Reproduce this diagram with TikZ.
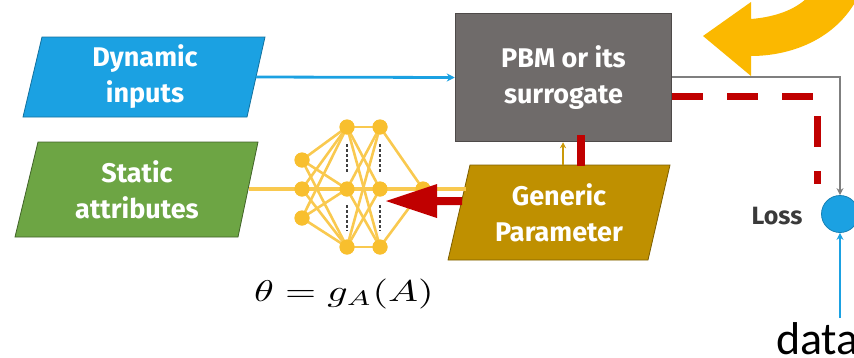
\documentclass[tikz,border=0pt]{standalone}
\usepackage{fontspec}
\usepackage{graphicx}
\usetikzlibrary{arrows.meta}
\newfontfamily\boxfont{Fira Sans}
\newfontfamily\datafont{Carlito}
\definecolor{dynblue}{HTML}{1BA1E2}
\definecolor{statgreen}{HTML}{6DA544}
\definecolor{gengold}{HTML}{BF9000}
\definecolor{pbmgray}{HTML}{6F6B6A}
\definecolor{pbmedge}{HTML}{4E4A49}
\definecolor{nnorange}{HTML}{F8BF2E}
\definecolor{nnline}{HTML}{F9C94F}
\definecolor{lossred}{HTML}{C00000}
\definecolor{curvey}{HTML}{FBB800}
\definecolor{linegray}{HTML}{7F7F7F}
\definecolor{losstext}{HTML}{3A3A3A}
\tikzset{
  boxtext/.style={text=white, align=center, font=\boxfont\bfseries\fontsize{27}{36}\selectfont, inner sep=0pt},
  nnnode/.style={circle, fill=nnorange, minimum size=15pt, inner sep=0pt},
  nnedge/.style={draw=nnline, line width=2.6pt},
  bluearrow/.style={draw=dynblue, line width=2.8pt, -{Stealth[length=8pt,width=8pt]}},
  grayarrow/.style={draw=linegray, line width=2.4pt, -{Stealth[length=7pt,width=7pt]}},
  redbar/.style={draw=lossred, line width=8pt},
  reddash/.style={draw=lossred, line width=7pt, dash pattern=on 31pt off 24pt},
}
\begin{document}
\begin{tikzpicture}[x=1pt,y=-1pt]
\useasboundingbox (0,0) rectangle (854,357);
\begin{scope}
\clip (0,0) rectangle (854,357);

% yellow curved arrow
\fill[curvey] (703,36) -- (751,2) -- (751,19)
  .. controls (775,17) and (795,10) .. (808,-3)
  -- (858,-3)
  .. controls (836,40) and (790,56) .. (751,56)
  -- (751,76) -- cycle;

% Dynamic inputs
\fill[dynblue, draw=dynblue!70!black, line width=0.8pt] (42,37) -- (265,37) -- (247,117) -- (23,117) -- cycle;
\node[boxtext] (dyn) at (145,77) {Dynamic\\inputs};
\coordinate (dynR) at (256,77);

% Static attributes
\fill[statgreen, draw=statgreen!60!black, line width=0.8pt] (38,142) -- (258,142) -- (238,237) -- (15,237) -- cycle;
\node[boxtext] (stat) at (137,190) {Static\\attributes};
\coordinate (statR) at (249,189);

% PBM
\node[draw=pbmedge, line width=1.5pt, fill=pbmgray, minimum width=216pt, minimum height=128pt, inner sep=0pt] (pbm) at (563.5,77.5) {};
\node[boxtext] (pbmtext) at (563.5,78) {PBM or its\\surrogate};

% Generic parameter
\fill[gengold, draw=gengold!65!black, line width=0.8pt] (470,165) -- (670,165) -- (648,260) -- (448,260) -- cycle;
\node[boxtext] (gen) at (559,213) {Generic\\Parameter};
\coordinate (genL) at (466,189);
\coordinate (genT) at (563,165);

% horizontal orange line through the network
\draw[draw=nnline, line width=3.5pt] (statR) -- (genL);

% neural network nodes
\node[nnnode] (i1) at (302,160) {};
\node[nnnode] (i2) at (302,189) {};
\node[nnnode] (i3) at (302,218) {};
\node[nnnode] (a1) at (347,127) {};
\node[nnnode] (a2) at (347,189) {};
\node[nnnode] (a3) at (347,247) {};
\node[nnnode] (b1) at (380,127) {};
\node[nnnode] (b2) at (380,189) {};
\node[nnnode] (b3) at (380,247) {};
\node[nnnode] (o1) at (423,189) {};
\foreach \i in {i1,i2,i3} \foreach \a in {a1,a2,a3} \draw[nnedge] (\i.center) -- (\a.center);
\foreach \a in {a1,a2,a3} \foreach \b in {b1,b2,b3} \draw[nnedge] (\a.center) -- (\b.center);
\foreach \b in {b1,b2,b3} \draw[nnedge] (\b.center) -- (o1.center);
\foreach \n in {i1,i2,i3,a1,a2,a3,b1,b2,b3,o1} \fill[nnorange] (\n) circle (7.5pt);
% vertical dots in hidden layers
\foreach \x in {347,380} {
  \draw[black!75, line width=1.6pt, dash pattern=on 2.5pt off 2.5pt] (\x,144) -- (\x,172);
  \draw[black!75, line width=1.6pt, dash pattern=on 2.5pt off 2.5pt] (\x,205) -- (\x,231);
}

% red arrow from Generic Parameter into the network
\coordinate (genA) at (462,201);
\fill[lossred] (462,197) -- (437,197) -- (437,184) -- (386,201) -- (437,218) -- (437,205) -- (462,205) -- cycle;

% Dynamic -> PBM
\draw[bluearrow] (dynR) -- (pbm.west);

% Generic -> PBM small arrow
\draw[draw=gengold!80!nnorange, line width=2.4pt, -{Stealth[length=6pt,width=6pt]}] (genT) -- (pbm.south -| genT);
% red bar
\draw[redbar] (581,135) -- (581,166);

% Loss
\node[circle, fill=dynblue, draw=dynblue!80!black, line width=0.8pt, minimum size=37pt, inner sep=0pt] (loss) at (840,214) {};
\node[text=losstext, font=\boxfont\bfseries\fontsize{25}{28}\selectfont, inner sep=0pt] (losslbl) at (777,216) {Loss};

% PBM -> Loss
\coordinate (pbmR) at (672,77);
\coordinate (corner) at (840,77);
\draw[grayarrow] (pbmR) -- (corner) -- (loss.north);

% red dashed backprop
\coordinate (pbmR2) at (672,96);
\coordinate (dcorner) at (817,96);
\coordinate (dend) at (817,184);
\draw[reddash] (pbmR2) -- (dcorner) -- (dend);

% data -> Loss
\node[anchor=base west, inner sep=0pt, font=\datafont\fontsize{46}{50}\selectfont] (data) at (776,354) {data};
\coordinate (dataT) at (840,318);
\draw[draw=dynblue, line width=2.6pt, -{Stealth[length=7pt,width=7pt]}] (dataT) -- (loss.south);

% formula
\node[anchor=base west, inner sep=0pt] (formula) at (254,301)
  {\scalebox{4}[3]{$\theta = g_A(A)$}};
\end{scope}
\end{tikzpicture}
\end{document}
